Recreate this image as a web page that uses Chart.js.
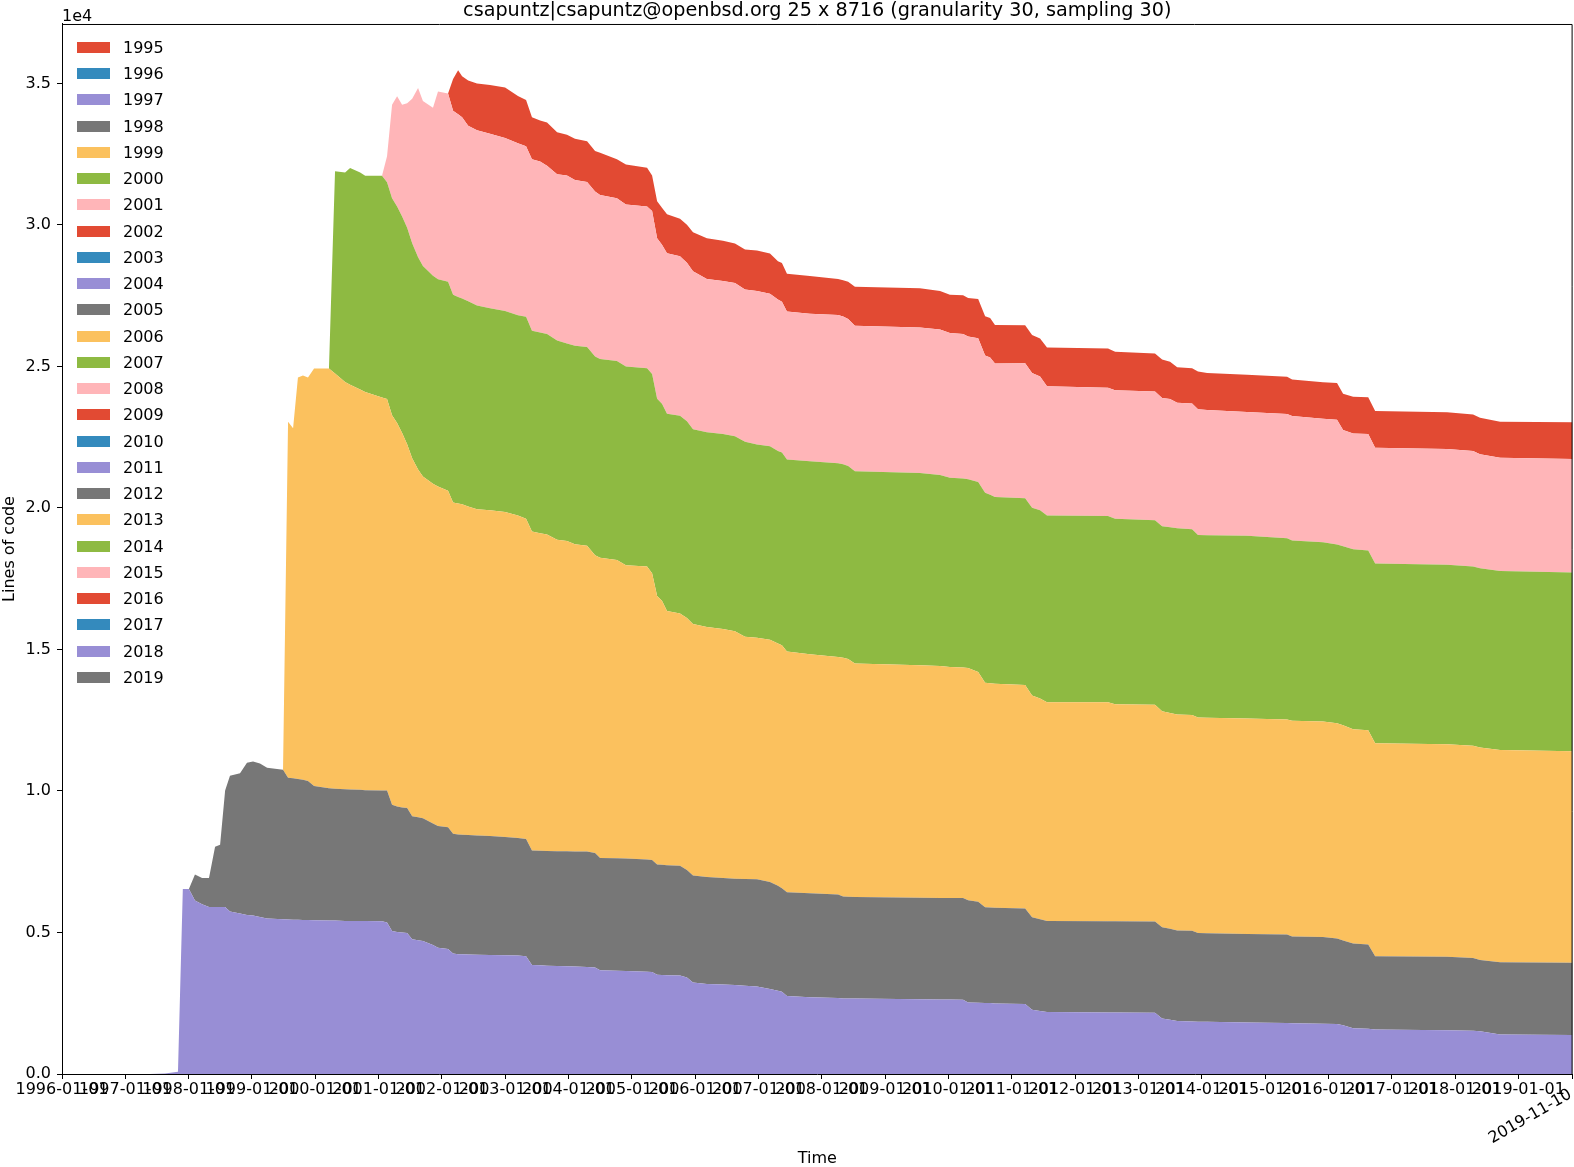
<!DOCTYPE html>
<html>
<head>
<meta charset="utf-8">
<script src="https://cdn.jsdelivr.net/npm/chart.js@4.4.1/dist/chart.umd.min.js"></script>
<style>
html, body { margin: 0; padding: 0; background: #fff; }
#wrap { position: relative; width: 1574px; height: 1167px; }
#legend { position: absolute; left: 77px; top: 34.2px; font-family: "DejaVu Sans"; font-size: 16px; color: #000; }
#legend .item { display: flex; align-items: center; height: 26.25px; white-space: nowrap; }
#legend .swatch { display: inline-block; width: 33px; height: 11px; margin-right: 13px; }
</style>
</head>
<body>
<div id="wrap">
  <canvas id="chart" width="1574" height="1167"></canvas>
  <div id="legend"></div>
</div>
<script>
// legend categories (one stacked layer per year of origin)
const years = ["1995", "1996", "1997", "1998", "1999", "2000", "2001", "2002", "2003", "2004",
    "2005", "2006", "2007", "2008", "2009", "2010", "2011", "2012", "2013", "2014",
    "2015", "2016", "2017", "2018", "2019"];

// sample dates
const dates = [
    "1996-01-01", "1997-05-22", "1997-08-17", "1997-10-31", "1997-11-28", "1998-01-02", "1998-02-06", "1998-03-19",
    "1998-04-28", "1998-06-02", "1998-07-01", "1998-07-30", "1998-08-27", "1998-10-24", "1998-12-03", "1999-01-07",
    "1999-02-16", "1999-03-29", "1999-06-29", "1999-07-28", "1999-08-26", "1999-09-23", "1999-10-22", "1999-11-20",
    "1999-12-25", "2000-03-20", "2000-04-24", "2000-06-21", "2000-07-20", "2000-09-16", "2000-10-15", "2001-01-20",
    "2001-02-18", "2001-03-19", "2001-04-17", "2001-05-16", "2001-06-14", "2001-07-13", "2001-08-16", "2001-09-13",
    "2001-11-10", "2001-12-09", "2002-02-05", "2002-03-06", "2002-04-04", "2002-04-27", "2002-06-01", "2002-07-22",
    "2002-10-05", "2002-12-31", "2003-03-15", "2003-05-01", "2003-06-04", "2003-07-21", "2003-08-30", "2003-10-27",
    "2003-12-23", "2004-02-07", "2004-04-17", "2004-06-02", "2004-07-01", "2004-10-06", "2004-11-27", "2005-03-29",
    "2005-04-27", "2005-05-26", "2005-06-23", "2005-07-22", "2005-10-05", "2005-11-14", "2005-12-19", "2006-03-09",
    "2006-06-10", "2006-08-18", "2006-10-15", "2006-12-23", "2007-03-08", "2007-04-23", "2007-05-16", "2007-06-14",
    "2007-10-24", "2008-04-04", "2008-05-03", "2008-06-01", "2008-07-10", "2009-07-20", "2009-11-13", "2010-01-09",
    "2010-03-26", "2010-04-24", "2010-06-21", "2010-07-31", "2010-08-29", "2010-09-26", "2011-03-19", "2011-04-28",
    "2011-06-13", "2011-07-23", "2012-07-09", "2012-08-19", "2013-04-06", "2013-05-17", "2013-07-02", "2013-08-12",
    "2013-11-06", "2013-12-10", "2014-02-01", "2014-09-19", "2015-05-08", "2015-06-06", "2015-12-01", "2016-02-20",
    "2016-03-26", "2016-05-23", "2016-08-18", "2016-09-27", "2017-11-16", "2018-04-15", "2018-05-25", "2018-09-18",
    "2019-11-10"
];

// lines of code still alive, per year of origin
const s1997 = [
    0, 0, 20, 80, 6535, 6535, 6127, 5998, 5898, 5898, 5898, 5898, 5739, 5670, 5620, 5600,
    5550, 5490, 5470, 5460, 5450, 5450, 5440, 5440, 5430, 5420, 5420, 5410, 5410, 5410, 5405, 5400,
    5350, 5050, 5020, 5000, 4980, 4765, 4725, 4695, 4555, 4465, 4415, 4255, 4235, 4230, 4225, 4215,
    4205, 4195, 4185, 4157, 3849, 3839, 3829, 3819, 3809, 3799, 3779, 3759, 3670, 3650, 3640, 3610,
    3600, 3510, 3500, 3490, 3480, 3411, 3232, 3182, 3162, 3142, 3122, 3093, 3003, 2943, 2903, 2754,
    2714, 2684, 2665, 2665, 2665, 2645, 2635, 2630, 2625, 2525, 2515, 2510, 2505, 2495, 2475, 2267,
    2227, 2187, 2177, 2177, 2167, 1958, 1918, 1869, 1859, 1849, 1844, 1819, 1799, 1794, 1779, 1769,
    1719, 1620, 1600, 1570, 1550, 1530, 1510, 1400, 1380
];
const s1998 = [
    0, 0, 0, 0, 0, 0, 920, 930, 1030, 2130, 2200, 4120, 4800, 4960, 5380, 5440,
    5420, 5330, 5280, 5010, 5000, 4970, 4960, 4910, 4750, 4680, 4660, 4650, 4640, 4630, 4625, 4620,
    4670, 4460, 4430, 4420, 4420, 4340, 4350, 4340, 4300, 4300, 4300, 4230, 4230, 4225, 4220, 4210,
    4200, 4180, 4150, 4150, 4050, 4050, 4050, 4050, 4060, 4060, 4080, 4050, 3960, 3970, 3970, 3970,
    3960, 3890, 3890, 3890, 3880, 3800, 3780, 3780, 3760, 3760, 3770, 3790, 3780, 3710, 3660, 3670,
    3670, 3660, 3610, 3600, 3590, 3580, 3580, 3585, 3590, 3610, 3570, 3385, 3380, 3380, 3370, 3270,
    3240, 3220, 3220, 3220, 3220, 3230, 3210, 3200, 3200, 3130, 3125, 3130, 3130, 3065, 3060, 3020,
    3000, 2990, 2980, 2590, 2590, 2570, 2520, 2550, 2550
];
const s1999 = [
    0, 0, 0, 0, 0, 0, 0, 0, 0, 0, 0, 0, 0, 0, 0, 0,
    0, 0, 0, 12580, 12370, 14190, 14280, 14260, 14750, 14830, 14670, 14390, 14300, 14150, 14070, 13880,
    13830, 13770, 13550, 13230, 12850, 12650, 12280, 12080, 12000, 11990, 11890, 11710, 11690, 11680, 11610, 11530,
    11510, 11480, 11400, 11310, 11270, 11220, 11180, 11010, 10960, 10860, 10810, 10520, 10610, 10540, 10370, 10350,
    10130, 9490, 9330, 8980, 8910, 8900, 8890, 8830, 8800, 8740, 8560, 8530, 8560, 8560, 8590, 8500,
    8450, 8390, 8430, 8400, 8250, 8220, 8200, 8170, 8150, 8210, 8120, 7930, 7920, 7910, 7900, 7840,
    7800, 7730, 7740, 7670, 7660, 7630, 7630, 7630, 7630, 7620, 7620, 7610, 7600, 7620, 7620, 7600,
    7600, 7570, 7570, 7530, 7510, 7500, 7510, 7500, 7470
];
const s2000 = [
    0, 0, 0, 0, 0, 0, 0, 0, 0, 0, 0, 0, 0, 0, 0, 0,
    0, 0, 0, 0, 0, 0, 0, 0, 0, 0, 7150, 7400, 7660, 7660, 7640, 7840,
    7660, 7660, 7650, 7650, 7650, 7600, 7500, 7430, 7350, 7330, 7390, 7340, 7300, 7270, 7250, 7200,
    7140, 7100, 7070, 7140, 7090, 7090, 7090, 7040, 6980, 7010, 7020, 7020, 7020, 7030, 7020, 7010,
    7040, 6970, 6960, 6970, 6990, 6950, 6880, 6880, 6890, 6890, 6890, 6830, 6840, 6800, 6810, 6790,
    6820, 6850, 6840, 6820, 6790, 6790, 6750, 6680, 6680, 6670, 6710, 6710, 6660, 6600, 6600, 6630,
    6650, 6600, 6580, 6550, 6520, 6540, 6560, 6580, 6560, 6450, 6450, 6460, 6400, 6370, 6330, 6320,
    6330, 6360, 6350, 6350, 6340, 6330, 6330, 6320, 6320
];
const s2001 = [
    0, 0, 0, 0, 0, 0, 0, 0, 0, 0, 0, 0, 0, 0, 0, 0,
    0, 0, 0, 0, 0, 0, 0, 0, 0, 0, 0, 0, 0, 0, 0, 0,
    920, 3310, 3900, 3950, 4400, 5100, 5980, 5830, 5940, 6630, 6650, 6500, 6460, 6400, 6200, 6190,
    6170, 6120, 6080, 6020, 6060, 6040, 5940, 5870, 5940, 5860, 5830, 5830, 5800, 5750, 5720, 5710,
    5760, 5670, 5620, 5670, 5630, 5600, 5580, 5420, 5410, 5420, 5380, 5420, 5390, 5350, 5320, 5230,
    5210, 5230, 5220, 5190, 5140, 5140, 5140, 5120, 5100, 5040, 5080, 4850, 4850, 4720, 4770, 4760,
    4730, 4560, 4530, 4540, 4550, 4530, 4530, 4440, 4440, 4440, 4420, 4370, 4390, 4400, 4360, 4410,
    4110, 4090, 4110, 4090, 4090, 4080, 4030, 4000, 4010
];
const s2002 = [
    0, 0, 0, 0, 0, 0, 0, 0, 0, 0, 0, 0, 0, 0, 0, 0,
    0, 0, 0, 0, 0, 0, 0, 0, 0, 0, 0, 0, 0, 0, 0, 0,
    0, 0, 0, 0, 0, 0, 0, 0, 0, 0, 0, 1120, 1550, 1450, 1600, 1650,
    1720, 1780, 1670, 1640, 1490, 1450, 1530, 1490, 1440, 1460, 1440, 1430, 1490, 1380, 1420, 1370,
    1260, 1310, 1310, 1380, 1330, 1350, 1380, 1440, 1420, 1390, 1410, 1430, 1420, 1350, 1370, 1330,
    1330, 1280, 1280, 1320, 1380, 1390, 1360, 1350, 1370, 1360, 1390, 1390, 1400, 1360, 1340, 1340,
    1340, 1370, 1390, 1360, 1340, 1360, 1320, 1250, 1250, 1330, 1310, 1320, 1320, 1290, 1290, 1300,
    1280, 1300, 1300, 1300, 1300, 1290, 1290, 1280, 1300
];

// axis ticks
const xTickLabels = ["1996-01-01", "1997-01-01", "1998-01-01", "1999-01-01", "2000-01-01", "2001-01-01",
    "2002-01-01", "2003-01-01", "2004-01-01", "2005-01-01", "2006-01-01", "2007-01-01", "2008-01-01",
    "2009-01-01", "2010-01-01", "2011-01-01", "2012-01-01", "2013-01-01", "2014-01-01", "2015-01-01",
    "2016-01-01", "2017-01-01", "2018-01-01", "2019-01-01", "2019-11-10"];
const yTicks = [0, 5000, 10000, 15000, 20000, 25000, 30000, 35000];

const seriesByYear = { "1997": s1997, "1998": s1998, "1999": s1999, "2000": s2000, "2001": s2001, "2002": s2002 };
const palette = ['#E24A33', '#348ABD', '#988ED5', '#777777', '#FBC15E', '#8EBA42', '#FFB5B8'];
const endLabel = xTickLabels[xTickLabels.length - 1];

Chart.defaults.font.family = '"DejaVu Sans"';
Chart.defaults.font.size = 16;
Chart.defaults.color = '#000';

const datasets = years.map((year, i) => {
    const values = seriesByYear[year];
    return {
        label: year,
        data: values ? values.map((v, k) => ({ x: Date.parse(dates[k]), y: v })) : [],
        backgroundColor: palette[i % palette.length],
        borderColor: palette[i % palette.length],
        borderWidth: 0,
        pointRadius: 0,
        tension: 0,
        fill: values ? (year === "1997" ? 'origin' : '-1') : false
    };
});

// legend drawn as html, from the chart's own legend items
const htmlLegend = {
    id: 'htmlLegend',
    afterUpdate(chart) {
        const box = document.getElementById('legend');
        box.innerHTML = '';
        chart.options.plugins.legend.labels.generateLabels(chart).forEach(item => {
            const row = document.createElement('div');
            row.className = 'item';
            const sw = document.createElement('span');
            sw.className = 'swatch';
            sw.style.background = item.fillStyle;
            const tx = document.createElement('span');
            tx.textContent = item.text;
            row.append(sw, tx);
            box.appendChild(row);
        });
    }
};

// top/right spines, offset text and the rotated last date
const extras = {
    id: 'extras',
    afterDraw(chart) {
        const { ctx, chartArea: a } = chart;
        ctx.save();
        ctx.strokeStyle = '#000';
        ctx.lineWidth = 1;
        ctx.beginPath();
        ctx.moveTo(a.left, a.top + 0.5);
        ctx.lineTo(a.right - 0.5, a.top + 0.5);
        ctx.lineTo(a.right - 0.5, a.bottom);
        ctx.stroke();
        ctx.fillStyle = '#000';
        ctx.font = '16px "DejaVu Sans"';
        ctx.textAlign = 'left';
        ctx.textBaseline = 'alphabetic';
        ctx.fillText('1e4', a.left, a.top - 3.3);
        const px = chart.scales.x.getPixelForValue(Date.parse(endLabel));
        ctx.translate(px - 6, a.bottom + 12.5);
        ctx.rotate(-Math.PI / 6);
        ctx.textAlign = 'right';
        ctx.textBaseline = 'top';
        ctx.fillText(endLabel, 0, 0);
        ctx.restore();
    }
};

new Chart(document.getElementById("chart"), {
    type: 'line',
    data: { datasets: datasets },
    options: {
        responsive: false,
        animation: false,
        devicePixelRatio: 1,
        layout: { padding: { left: 0, right: 1.4, top: 0, bottom: 0 } },
        plugins: {
            legend: { display: false },
            tooltip: { enabled: false },
            title: {
                display: true,
                fullSize: false,
                text: 'csapuntz|csapuntz@openbsd.org 25 x 8716 (granularity 30, sampling 30)',
                font: { size: 19.2, weight: 'normal', lineHeight: 1.1458 },
                color: '#000',
                padding: { top: 0, bottom: 2 }
            }
        },
        scales: {
            x: {
                type: 'linear',
                min: Date.parse(xTickLabels[0]),
                max: Date.parse(endLabel),
                afterBuildTicks: scale => { scale.ticks = xTickLabels.map(s => ({ value: Date.parse(s) })); },
                afterFit: scale => { scale.height = 93; },
                ticks: {
                    autoSkip: false,
                    maxRotation: 0,
                    minRotation: 0,
                    padding: 1,
                    color: '#000',
                    callback: (value, index) => index === xTickLabels.length - 1 ? '' : xTickLabels[index]
                },
                grid: { drawOnChartArea: false, drawTicks: true, tickLength: 5, tickColor: '#000', color: '#000' },
                border: { display: true, color: '#000', width: 1 },
                title: { display: true, text: 'Time', font: { size: 16, lineHeight: 1.0 }, padding: { top: 0, bottom: 0 }, color: '#000' }
            },
            y: {
                stacked: true,
                min: 0,
                max: 37100,
                afterBuildTicks: scale => { scale.ticks = yTicks.map(v => ({ value: v })); },
                afterFit: scale => { scale.width = 62; },
                ticks: {
                    padding: 6,
                    color: '#000',
                    callback: value => (value / 1e4).toFixed(1)
                },
                grid: { drawOnChartArea: false, drawTicks: true, tickLength: 5, tickColor: '#000', color: '#000' },
                border: { display: true, color: '#000', width: 1 },
                title: { display: true, text: 'Lines of code', padding: { top: 0.4, bottom: 0 }, color: '#000' }
            }
        }
    },
    plugins: [htmlLegend, extras]
});
</script>
</body>
</html>
